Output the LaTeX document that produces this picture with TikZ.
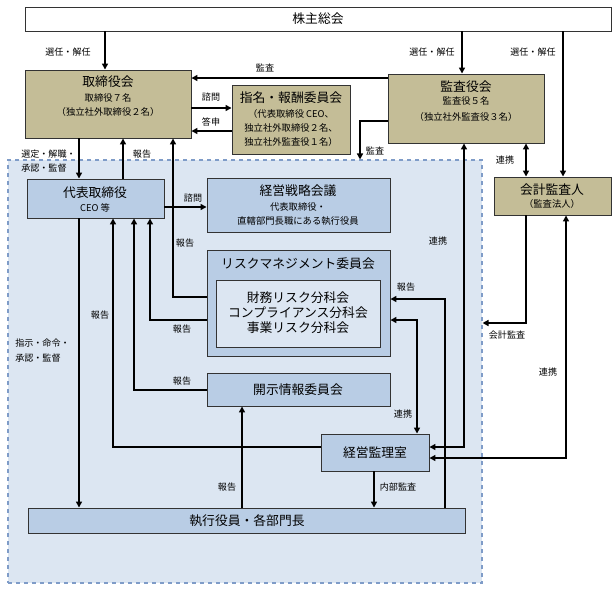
\documentclass[tikz,border=0pt]{standalone}
\usepackage{fontspec}
\setmainfont{Noto Sans CJK JP}
\usetikzlibrary{arrows.meta,fit}
\definecolor{tanbox}{HTML}{C4BD97}
\definecolor{bluebox}{HTML}{B9CDE5}
\definecolor{regionfill}{HTML}{DCE6F2}
\definecolor{regionline}{HTML}{7F9CC8}
\begin{document}
\begin{tikzpicture}[x=0.75pt,y=-0.75pt,
  box/.style={draw=black!80, line width=0.7pt, inner sep=0pt},
  tanb/.style={box, fill=tanbox},
  blueb/.style={box, fill=bluebox},
  ttl/.style={font=\fontsize{9.6}{11}\selectfont, inner sep=0pt},
  sml/.style={font=\fontsize{7}{8}\selectfont, inner sep=0pt},
  lbl/.style={font=\fontsize{6.8}{8}\selectfont, inner sep=0pt},
  ln/.style={line width=1.1pt},
  arr/.style={ln, -{Triangle[length=4.5pt,width=4.5pt]}},
  darr/.style={ln, {Triangle[length=4.5pt,width=4.5pt]}-{Triangle[length=4.5pt,width=4.5pt]}}]
\useasboundingbox (0,0) rectangle (616,589);

% region
\node[draw=regionline, dashed, fill=regionfill, line width=0.8pt, inner sep=0pt, fit={(8,160) (482,583)}] (region) {};

% boxes
\node[box, fill=white, fit={(25,7) (611,31)}] (kabu) {};
\node[tanb, fit={(25,70) (191,138)}] (tori) {};
\node[tanb, fit={(232,85) (350,154)}] (shimei) {};
\node[tanb, fit={(388,74) (544,143)}] (kansa) {};
\node[tanb, fit={(494,177) (611,215)}] (kaikei) {};
\node[blueb, fit={(27,179) (164,218)}] (ceo) {};
\node[blueb, fit={(207,178) (390,232)}] (senryaku) {};
\node[blueb, fit={(207,250) (390,356)}] (risk) {};
\node[box, fill=regionfill, fit={(216,280) (380,347)}] (riskin) {};
\node[blueb, fit={(207,373) (390,406)}] (kaiji) {};
\node[blueb, fit={(321,434) (429,471)}] (kanri) {};
\node[blueb, fit={(28,508) (465,533)}] (shikko) {};

% texts in boxes
\node[ttl] (t1) at (318,19) {株主総会};
\node[ttl] (t2) at (108,82) {取締役会};
\node[sml] (t3) at (108,98) {取締役７名};
\node[sml] (t4) at (108,112) {（独立社外取締役２名）};
\node[ttl] (t5) at (291,98) {指名・報酬委員会};
\node[sml] (t6) at (291,114) {（代表取締役 CEO、};
\node[sml] (t7) at (291,128) {独立社外取締役２名、};
\node[sml] (t8) at (291,142) {独立社外監査役１名）};
\node[ttl] (t9) at (466,87) {監査役会};
\node[sml] (t10) at (466,101) {監査役５名};
\node[sml] (t11) at (466,117) {（独立社外監査役３名）};
\node[ttl] (t12) at (552,190) {会計監査人};
\node[sml] (t13) at (552,204) {（監査法人）};
\node[ttl] (t14) at (95,193) {代表取締役};
\node[sml] (t15) at (95,208) {CEO 等};
\node[ttl] (t16) at (298,191) {経営戦略会議};
\node[sml] (t17) at (298,207) {代表取締役・};
\node[sml] (t18) at (298,221) {直轄部門長職にある執行役員};
\node[ttl] (t19) at (298,264) {リスクマネジメント委員会};
\node[ttl] (t20) at (298,298) {財務リスク分科会};
\node[ttl] (t21) at (298,313) {コンプライアンス分科会};
\node[ttl] (t22) at (298,328) {事業リスク分科会};
\node[ttl] (t23) at (298,390) {開示情報委員会};
\node[ttl] (t24) at (375,453) {経営監理室};
\node[ttl] (t25) at (247,521) {執行役員・各部門長};

% connectors
\draw[arr] (105,0 |- kabu.south) -- (105,0 |- tori.north);
\draw[arr] (462,0 |- kabu.south) -- (462,0 |- kansa.north);
\draw[arr] (563,0 |- kabu.south) -- (563,0 |- kaikei.north);
\draw[arr] (kansa.west |- 0,78) -- (tori.east |- 0,78);
\draw[arr] (tori.east |- 0,108) -- (shimei.west |- 0,108);
\draw[arr] (shimei.west |- 0,131) -- (tori.east |- 0,131);
\draw[arr] (kansa.west |- 0,121) -- (360,121) -- (360,0 |- region.north);
\draw[darr] (526,0 |- kansa.south) -- (526,0 |- kaikei.north);
\draw[arr] (526,0 |- kaikei.south) -- (526,323) -- (region.east |- 0,323);
\draw[darr] (566,0 |- kaikei.south) -- (566,458) -- (kanri.east |- 0,458);
\draw[darr] (464,0 |- kansa.south) -- (464,447) -- (kanri.east |- 0,447);
\draw[arr] (79,0 |- tori.south) -- (79,0 |- ceo.north);
\draw[arr] (123,0 |- ceo.north) -- (123,0 |- tori.south);
\draw[arr] (risk.west |- 0,297) -- (173,297) -- (173,0 |- tori.south);
\draw[arr] (ceo.east |- 0,207) -- (senryaku.west |- 0,207);
\draw[arr] (risk.west |- 0,320) -- (150,320) -- (150,0 |- ceo.south);
\draw[arr] (kaiji.west |- 0,390) -- (134,390) -- (134,0 |- ceo.south);
\draw[arr] (kanri.west |- 0,447) -- (113,447) -- (113,0 |- ceo.south);
\draw[arr] (79,0 |- ceo.south) -- (79,0 |- shikko.north);
\draw[arr] (242,0 |- shikko.north) -- (242,0 |- kaiji.south);
\draw[arr] (374,0 |- kanri.south) -- (374,0 |- shikko.north);
\draw[arr] (445,0 |- shikko.north) -- (445,299) -- (risk.east |- 0,299);
\draw[darr] (risk.east |- 0,320) -- (417,320) -- (417,0 |- kanri.north);

% labels
\node[lbl] (l1) at (68,52) {選任・解任};
\node[lbl] (l2) at (432,52) {選任・解任};
\node[lbl] (l3) at (533,52) {選任・解任};
\node[lbl] (l4) at (265,68) {監査};
\node[lbl] (l5) at (211,97) {諮問};
\node[lbl] (l6) at (211,122) {答申};
\node[lbl] (l7) at (375,151) {監査};
\node[lbl] (l8) at (505,160) {連携};
\node[lbl, anchor=west] (l9) at (21,154) {選定・解職・};
\node[lbl, anchor=west] (l10) at (21,168) {承認・監督};
\node[lbl] (l11) at (142,154) {報告};
\node[lbl] (l12) at (193,198) {諮問};
\node[lbl] (l13) at (185,243) {報告};
\node[lbl] (l14) at (438,241) {連携};
\node[lbl] (l15) at (182,329) {報告};
\node[lbl] (l16) at (406,287) {報告};
\node[lbl] (l17) at (100,315) {報告};
\node[lbl, anchor=west] (l18) at (15,343) {指示・命令・};
\node[lbl, anchor=west] (l19) at (15,358) {承認・監督};
\node[lbl] (l20) at (507,335) {会計監査};
\node[lbl] (l21) at (548,372) {連携};
\node[lbl] (l22) at (182,381) {報告};
\node[lbl] (l23) at (403,414) {連携};
\node[lbl] (l24) at (227,487) {報告};
\node[lbl] (l25) at (398,487) {内部監査};
\end{tikzpicture}
\end{document}
